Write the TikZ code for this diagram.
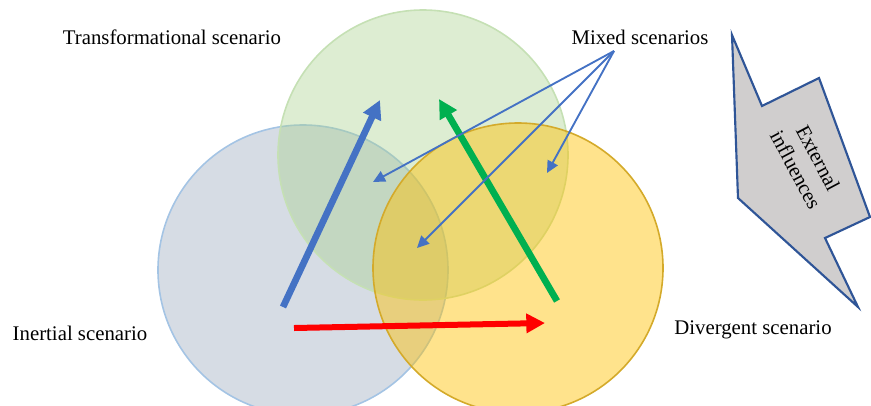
\documentclass[tikz,border=0pt]{standalone}
\usepackage{fontspec}
\setmainfont{Liberation Serif}
\usetikzlibrary{arrows.meta, positioning, calc}
\definecolor{inertfill}{HTML}{ADB9CA}
\definecolor{inertline}{HTML}{A4C4E4}
\definecolor{transfill}{HTML}{A9D18E}
\definecolor{transline}{HTML}{C5E0B4}
\definecolor{divfill}{HTML}{FFC000}
\definecolor{divline}{HTML}{D4AA2A}
\definecolor{arrblue}{HTML}{4472C4}
\definecolor{arrgreen}{HTML}{00B050}
\definecolor{extfill}{HTML}{D0CECE}
\definecolor{extline}{HTML}{2F5597}

\begin{document}
\begin{tikzpicture}[
    x=0.75pt, y=-0.75pt,
    scen/.style={circle, minimum size=217.5pt, inner sep=0pt, line width=1.2pt, fill opacity=0.5},
    lbl/.style={font=\fontsize{15.6}{19}\selectfont, inner sep=0pt, align=center},
    bigarr/.style={line width=5pt, -{Triangle[length=14pt, width=14pt]}},
    thinarr/.style={line width=1.4pt, draw=arrblue, -{Triangle[length=9pt, width=8.5pt]}},
  ]
    \useasboundingbox (0,0) rectangle (871,405);

    % the three scenario circles
    \node[scen, draw=inertline, fill=inertfill] (inert) at (303,270) {};
    \node[scen, draw=transline, fill=transfill, fill opacity=0.4] (trans) at (423,155) {};
    \node[scen, draw=divline, fill=divfill, fill opacity=0.45] (diverg) at (518,268) {};

    \node[lbl] (translbl) at (172,37) {Transformational scenario};
    \node[lbl] (mixlbl) at (640,37) {Mixed scenarios};
    \node[lbl] (inertlbl) at (80,333) {Inertial scenario};
    \node[lbl] (divlbl) at (753,330) {Divergent scenario};

    % big arrows
    \coordinate (blueA) at (283,307);
    \coordinate (blueB) at (380,100);
    \coordinate (greenA) at (557,301);
    \coordinate (greenB) at (439,99);
    \coordinate (redA) at (294,328);
    \coordinate (redB) at (545,323);
    \draw[bigarr, arrblue] (blueA) -- (blueB);
    \draw[bigarr, arrgreen] (greenA) -- (greenB);
    \draw[bigarr, red, line width=4.5pt] (redA) -- (redB);

    % mixed scenarios
    \coordinate (mixsrc) at (614,51);
    \coordinate (mixA) at (373,182);
    \coordinate (mixB) at (417,248);
    \coordinate (mixC) at (547,173);
    \draw[thinarr] (mixsrc) -- (mixA);
    \draw[thinarr] (mixsrc) -- (mixB);
    \draw[thinarr] (mixsrc) -- (mixC);

    % external influences
    \draw[line width=1.6pt, draw=extline, fill=extfill, line join=miter]
      (732,35) -- (762,106) -- (819,78) -- (870,217) -- (825,238) -- (858,307) -- (738,198) -- cycle;
    \node[lbl, rotate=-62] (ext) at (807,164) {External\\influences};
\end{tikzpicture}
\end{document}
